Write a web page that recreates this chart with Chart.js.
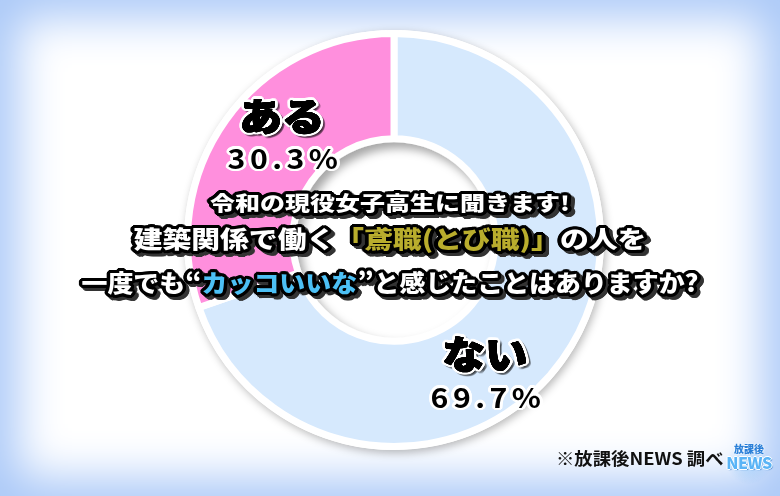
<!DOCTYPE html>
<html lang="ja">
<head>
<meta charset="utf-8">
<title>鳶職アンケート</title>
<script src="https://cdn.jsdelivr.net/npm/chart.js@4.4.1/dist/chart.umd.min.js"></script>
<style>
    html, body {
        margin: 0;
        padding: 0;
        width: 780px;
        height: 496px;
        overflow: hidden;
        font-family: "Noto Sans CJK JP", "Noto Sans", sans-serif;
    }
    #frame {
        position: absolute;
        left: 0;
        top: 0;
        width: 780px;
        height: 496px;
        background: #ffffff;
        box-shadow: inset 0 0 45px 18px #abc9f8;
    }
    #chart-box {
        position: absolute;
        left: 0;
        top: 0;
        width: 780px;
        height: 496px;
    }
    .label {
        position: absolute;
        transform: translate(-50%, -50%) scaleX(1.12);
        white-space: nowrap;
        color: #000;
        line-height: 1;
    }
    .label.name {
        font-size: 38px;
        font-weight: 900;
    }
    .label.pct {
        font-size: 27px;
        font-weight: 700;
        letter-spacing: 4px;
    }
    #title {
        position: absolute;
        left: 0;
        top: 0;
        width: 780px;
    }
    .line {
        position: absolute;
        left: 0;
        width: 780px;
        text-align: center;
        white-space: nowrap;
        color: #fff;
        font-weight: 900;
        line-height: 1;
    }
    .gold { color: #b9ad2d; }
    .sky { color: #4cc0f5; }
    #source {
        position: absolute;
        left: 556px;
        top: 449px;
        font-size: 17px;
        font-weight: 700;
        color: #111;
        white-space: nowrap;
        line-height: 1;
        transform: scaleX(1.08);
        transform-origin: left center;
    }
    #logo {
        position: absolute;
        left: 726px;
        top: 440px;
        width: 46px;
        height: 44px;
        text-align: center;
        line-height: 1;
        font-weight: 900;
        border-radius: 50%;
        background: radial-gradient(circle, rgba(120,190,250,0.45) 0%, rgba(120,190,250,0.0) 70%);
    }
    #logo .small {
        margin-top: 4px;
        font-size: 10px;
        color: #2a7fd8;
        text-shadow: 0 0 2px #fff, 0 0 2px #fff;
    }
    #logo .big {
        font-size: 16px;
        color: #5ab4f6;
        letter-spacing: -0.5px;
        text-shadow: 1px 0 0 #fff, -1px 0 0 #fff, 0 1px 0 #fff, 0 -1px 0 #fff, 1px 1px 1px #1d6fc7;
    }
</style>
</head>
<body>
<div id="frame"></div>
<div id="chart-box"><canvas id="callChart"></canvas></div>
<div id="title"></div>
<div id="labels"></div>
<div id="source">※放課後NEWS 調べ</div>
<div id="logo"><div class="small">放課後</div><div class="big">NEWS</div></div>

<script>
// survey answers, clockwise from 12 o'clock
const categories = ["ない", "ある"];
const values = [69.7, 30.3];
const sliceColors = ["#d6e9fd", "#ff8fdd"];

const titleLines = [
    "令和の現役女子高生に聞きます!",
    "建築関係で働く<span class=\"gold\">「鳶職(とび職)」</span>の人を",
    "一度でも“<span class=\"sky\">カッコいいな</span>”と感じたことはありますか?",
];

const RING_BORDER = 7;

// text-shadow ring used as an outline (no colour = currentColor)
function outline(width, color, dx = 0, dy = 0) {
    const parts = [];
    for (let i = 0; i < 16; i++) {
        const t = (i * Math.PI) / 8;
        const x = (Math.cos(t) * width + dx).toFixed(1);
        const y = (Math.sin(t) * width + dy).toFixed(1);
        parts.push(`${x}px ${y}px 0 ${color}`.trim());
    }
    return parts.join(",");
}

function renderTitle() {
    const box = document.getElementById("title");
    const layout = [
        { top: 193, size: 20, scale: 1.25 },
        { top: 226, size: 24, scale: 1.2 },
        { top: 270, size: 24, scale: 1.08 },
    ];
    titleLines.forEach((html, i) => {
        const el = document.createElement("div");
        el.className = "line";
        el.innerHTML = html;
        el.style.top = layout[i].top + "px";
        el.style.fontSize = layout[i].size + "px";
        el.style.transform = `scaleX(${layout[i].scale})`;
        el.style.textShadow = [
            outline(3.2, "#000"),
            outline(3.2, "#333", 3, 3),
        ].join(",");
        box.appendChild(el);
    });
}

function renderLabels() {
    const box = document.getElementById("labels");
    // label anchor points (name, then percentage below)
    const spots = [
        { x: 485, y: 352, py: 396 },
        { x: 282, y: 114, py: 157 },
    ];
    categories.forEach((cat, i) => {
        const name = document.createElement("div");
        name.className = "label name";
        name.textContent = cat;
        name.style.left = spots[i].x + "px";
        name.style.top = spots[i].y + "px";
        name.style.textShadow = [
            outline(0.5, ""),
            outline(3, "#fff"),
            outline(3, "rgba(0,0,0,0.2)", 2, 2),
        ].join(",");
        box.appendChild(name);

        const pct = document.createElement("div");
        pct.className = "label pct";
        pct.textContent = values[i].toFixed(1) + "%";
        pct.style.left = spots[i].x + 3 + "px";
        pct.style.top = spots[i].py + "px";
        pct.style.textShadow = outline(2.5, "#fff");
        box.appendChild(pct);
    });
}

// white rim with a soft drop shadow, and an inset shadow in the hole
const ringShadow = {
    id: "ringShadow",
    beforeDatasetsDraw(chart) {
        const arc = chart.getDatasetMeta(0).data[0];
        if (!arc) return;
        const { x, y, outerRadius } = arc.getProps(["x", "y", "outerRadius"], true);
        const ctx = chart.ctx;
        ctx.save();
        ctx.shadowColor = "rgba(0,0,0,0.28)";
        ctx.shadowBlur = 8;
        ctx.shadowOffsetX = 2;
        ctx.shadowOffsetY = 3;
        ctx.fillStyle = "#fff";
        ctx.beginPath();
        ctx.arc(x, y, outerRadius + RING_BORDER / 2, 0, Math.PI * 2);
        ctx.fill();
        ctx.restore();
    },
    afterDatasetsDraw(chart) {
        const arc = chart.getDatasetMeta(0).data[0];
        if (!arc) return;
        const { x, y, innerRadius } = arc.getProps(["x", "y", "innerRadius"], true);
        const r = innerRadius - RING_BORDER / 2;
        const ctx = chart.ctx;
        ctx.save();
        ctx.beginPath();
        ctx.arc(x, y, r, 0, Math.PI * 2);
        ctx.clip();
        ctx.shadowColor = "rgba(0,0,0,0.35)";
        ctx.shadowBlur = 10;
        ctx.shadowOffsetX = 5;
        ctx.shadowOffsetY = 6;
        ctx.strokeStyle = "#fff";
        ctx.lineWidth = 40;
        ctx.beginPath();
        ctx.arc(x, y, r + 20, 0, Math.PI * 2);
        ctx.stroke();
        ctx.restore();
    },
};

function renderChart() {
    const ctx = document.getElementById("callChart")?.getContext("2d");
    if (!ctx) {
        console.error("Canvas #callChart not found");
        return;
    }

    new Chart(ctx, {
        type: "doughnut",
        data: {
            labels: categories,
            datasets: [
                {
                    data: values,
                    backgroundColor: sliceColors,
                    borderColor: "#ffffff",
                    borderWidth: RING_BORDER,
                    hoverOffset: 0,
                },
            ],
        },
        options: {
            responsive: true,
            maintainAspectRatio: false,
            animation: false,
            cutout: "49%",
            layout: {
                padding: { top: 30, bottom: 46, left: 184, right: 176 },
            },
            plugins: {
                legend: { display: false },
                tooltip: { enabled: false },
            },
        },
        plugins: [ringShadow],
    });
}

renderChart();
renderTitle();
renderLabels();
</script>
</body>
</html>
